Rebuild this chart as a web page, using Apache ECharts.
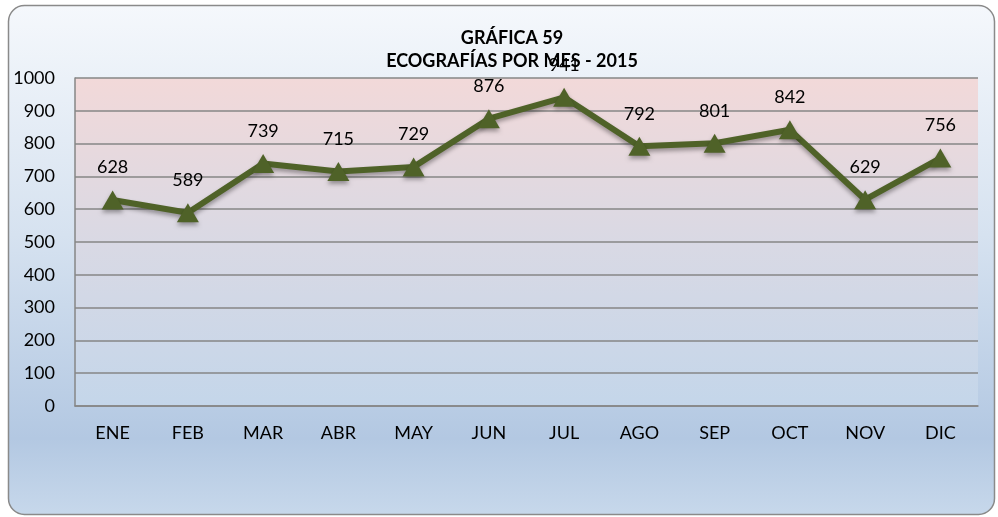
<!DOCTYPE html>
<html>
<head>
<meta charset="utf-8">
<script src="https://cdn.jsdelivr.net/npm/echarts@6/dist/echarts.min.js"></script>
<style>
html,body{margin:0;padding:0;background:#ffffff;}
#chart{width:998px;height:517px;}
</style>
</head>
<body>
<div id="chart"></div>
<script>
const titleLines = ['GRÁFICA 59', 'ECOGRAFÍAS POR MES - 2015'];
const categories = ['ENE','FEB','MAR','ABR','MAY','JUN','JUL','AGO','SEP','OCT','NOV','DIC'];
const values = [628, 589, 739, 715, 729, 876, 941, 792, 801, 842, 629, 756];
const yMin = 0, yMax = 1000, yStep = 100;

const font = 'Lato, "Open Sans", sans-serif';
const chart = echarts.init(document.getElementById('chart'), null, {renderer:'canvas'});
chart.setOption({
  backgroundColor: '#ffffff',
  animation: false,
  graphic: [{
    type: 'rect', z: -10,
    shape: {x: 8.5, y: 5.5, width: 986, height: 509, r: 16},
    style: {
      fill: new echarts.graphic.LinearGradient(0,0,0,1,[
        {offset:0, color:'#f5f8fc'},
        {offset:0.45, color:'#d6e2f0'},
        {offset:0.85, color:'#b3c8e2'},
        {offset:1, color:'#c7d8eb'}
      ]),
      stroke: '#8a8a8a', lineWidth: 1.5
    }
  }],
  title: {
    text: titleLines.join('\n'),
    left: 507, top: 22, textAlign: 'center',
    textStyle: {fontFamily: font, fontSize: 18, fontWeight: 'bold', color: '#000', lineHeight: 23}
  },
  grid: {
    left: 75, right: 20, top: 78, bottom: 111,
    show: true, borderWidth: 0,
    backgroundColor: new echarts.graphic.LinearGradient(0,0,0,1,[
      {offset:0, color:'#f2d9d9'},
      {offset:0.5, color:'#d9d9e4'},
      {offset:1, color:'#c4d6ea'}
    ])
  },
  xAxis: {
    type: 'category', data: categories, boundaryGap: true,
    axisLine: {show: true, lineStyle: {color: '#868686', width: 1.5}},
    axisTick: {show: false},
    axisLabel: {fontFamily: font, fontSize: 18, color: '#000', margin: 18}
  },
  yAxis: {
    type: 'value', min: yMin, max: yMax, interval: yStep,
    axisLine: {show: true, lineStyle: {color: '#868686', width: 1.5}},
    axisTick: {show: false},
    splitLine: {lineStyle: {color: '#868686', width: 1.5}},
    axisLabel: {fontFamily: font, fontSize: 18, color: '#000', margin: 20, formatter: v => String(v)}
  },
  series: [{
    type: 'line', data: values,
    symbol: 'triangle', symbolSize: [22, 19],
    lineStyle: {color: '#4f6228', width: 6, shadowColor: 'rgba(0,0,0,0.35)', shadowBlur: 4, shadowOffsetY: 3},
    itemStyle: {color: '#4f6228', shadowColor: 'rgba(0,0,0,0.35)', shadowBlur: 4, shadowOffsetY: 3},
    label: {show: true, position: 'top', distance: 14, fontFamily: font, fontSize: 18, color: '#000'}
  }]
});
</script>
</body>
</html>
